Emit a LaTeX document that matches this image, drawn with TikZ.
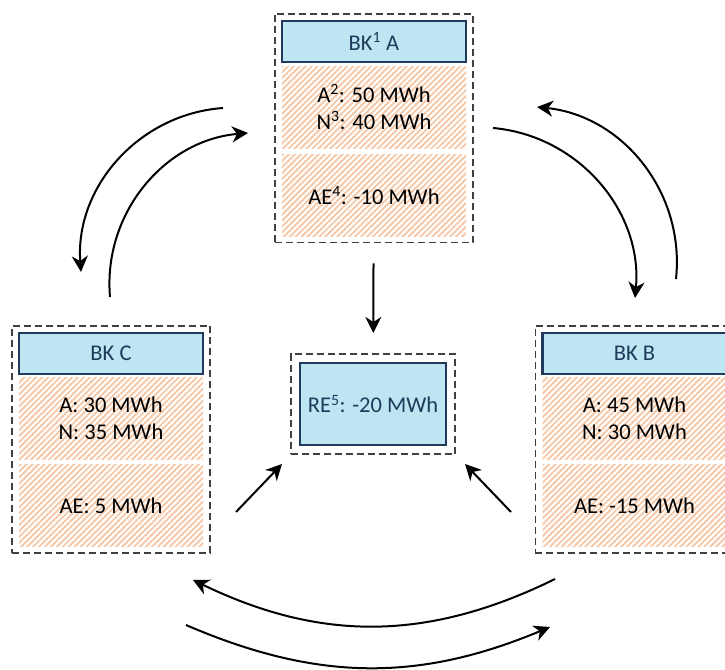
\documentclass[tikz,border=0pt]{standalone}
\usepackage{fontspec}
\setmainfont{Carlito}
\usetikzlibrary{positioning,fit,patterns.meta,arrows.meta}
\definecolor{hdrfill}{RGB}{189,229,242}
\definecolor{hdrline}{RGB}{31,58,90}
\definecolor{hatch}{RGB}{247,200,166}
\definecolor{dashline}{RGB}{64,64,64}

\begin{document}
\begin{tikzpicture}[x=1pt,y=1pt, every node/.style={font=\fontsize{22.5}{27}\selectfont},
  header/.style={draw=hdrline, line width=2.4pt, fill=hdrfill, text=hdrline,
    minimum width=184pt, minimum height=41pt, inner sep=0pt},
  amounts/.style={pattern={Lines[angle=45,distance=4.2pt,line width=1.9pt]}, pattern color=hatch,
    minimum width=184pt, minimum height=82pt, inner sep=0pt, align=center},
  group/.style={draw=dashline, line width=1.6pt, dash pattern=on 7pt off 4pt, inner sep=6pt},
  flow/.style={line width=2pt, -{Stealth[length=16pt,width=16pt,inset=5pt]}}]
  \useasboundingbox (0,0) rectangle (725,669);

  % balancing groups
  \node[header] (hdrA) at (374,627.5) {BK\textsuperscript{1} A};
  \node[amounts, below=2pt of hdrA] (secAa) {A\textsuperscript{2}: 50 MWh\\N\textsuperscript{3}: 40 MWh};
  \node[amounts, below=5pt of secAa] (secAb) {AE\textsuperscript{4}: -10 MWh};
  \node[group, fit=(hdrA)(secAb)] (boxA) {};

  \node[header] (hdrC) at (111,315.5) {BK C};
  \node[amounts, below=2pt of hdrC] (secCa) {A: 30 MWh\\N: 35 MWh};
  \node[amounts, below=5pt of secCa] (secCb) {AE: 5 MWh};
  \node[group, fit=(hdrC)(secCb)] (boxC) {};

  \node[header] (hdrB) at (634.5,315.5) {BK B};
  \node[amounts, below=2pt of hdrB] (secBa) {A: 45 MWh\\N: 30 MWh};
  \node[amounts, below=5pt of secBa] (secBb) {AE: -15 MWh};
  \node[group, fit=(hdrB)(secBb)] (boxB) {};

  % control area
  \node[header, minimum width=146pt, minimum height=82pt] (re) at (373,265) {RE\textsuperscript{5}: -20 MWh};
  \node[group, inner sep=8pt, fit=(re)] (boxRE) {};

  % arrow ends
  \coordinate (aToC) at (223,561);  \coordinate (cFromA) at (81,397);
  \coordinate (cToA) at (110,372);  \coordinate (aFromC) at (248,536);
  \coordinate (aToB) at (493,541);  \coordinate (bFromA) at (635,371);
  \coordinate (bToA) at (676,390);  \coordinate (aFromB) at (537,562);
  \coordinate (bToC) at (555,90);   \coordinate (cFromB) at (193,89);
  \coordinate (cToB) at (186,44);   \coordinate (bFromC) at (550,42);
  \coordinate (cToRE) at (236,157); \coordinate (reFromC) at (282,205);
  \coordinate (bToRE) at (511,157); \coordinate (reFromB) at (465,205);

  \draw[flow] (aToC) to[bend right=45] (cFromA);
  \draw[flow] (cToA) to[bend left=45] (aFromC);
  \draw[flow] (aToB) to[bend left=45] (bFromA);
  \draw[flow] (bToA) to[bend right=45] (aFromB);
  \draw[flow] (bToC) to[bend left=26] (cFromB);
  \draw[flow] (cToB) to[bend right=23] (bFromC);

  \draw[flow, shorten <=20pt, shorten >=20pt] (boxA) -- (boxRE);
  \draw[flow] (cToRE) -- (reFromC);
  \draw[flow] (bToRE) -- (reFromB);
\end{tikzpicture}
\end{document}
